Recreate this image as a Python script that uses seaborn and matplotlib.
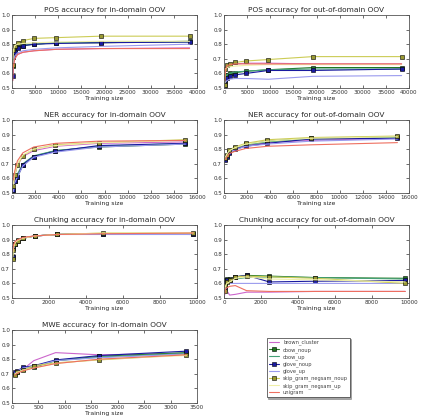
import numpy as np
import pandas as pd
import matplotlib
matplotlib.use('Agg')
import matplotlib.pyplot as plt
import seaborn as sns

sns.set_style('ticks')
plt.rcParams['font.family'] = ['DejaVu Sans']
plt.rcParams['xtick.direction'] = 'in'
plt.rcParams['ytick.direction'] = 'in'

methods = ['brown_cluster', 'cbow_noup', 'cbow_up', 'glove_noup', 'glove_up',
           'skip_gram_negsam_noup', 'skip_gram_negsam_up', 'unigram']
colors = {
    'brown_cluster': '#cc66cc',
    'cbow_noup': '#227722',
    'cbow_up': '#44a077',
    'glove_noup': '#1a1aa0',
    'glove_up': '#9a9aee',
    'skip_gram_negsam_noup': '#cccc55',
    'skip_gram_negsam_up': '#efefa8',
    'unigram': '#ee6f60',
}
marker_face = {'cbow_noup': '#227722', 'glove_noup': '#1a1aa0',
               'skip_gram_negsam_noup': '#999933'}

# x values (training sizes)
pos_x = [150, 300, 600, 1200, 2400, 4800, 9600, 19200, 38400]
ner_x = [117, 234, 469, 938, 1875, 3750, 7500, 15000]
chunk_x = [38, 77, 153, 306, 612, 1225, 2450, 4900, 9800]
mwe_x = [52, 103, 206, 412, 825, 1650, 3300]

pos_in = {
    'brown_cluster': [0.55, 0.66, 0.70, 0.73, 0.745, 0.755, 0.765, 0.77, 0.775],
    'cbow_noup': [0.65, 0.74, 0.77, 0.78, 0.79, 0.80, 0.81, 0.81, 0.82],
    'cbow_up': [0.68, 0.75, 0.78, 0.79, 0.80, 0.80, 0.81, 0.815, 0.815],
    'glove_noup': [0.58, 0.71, 0.745, 0.775, 0.79, 0.80, 0.805, 0.81, 0.815],
    'glove_up': [0.60, 0.68, 0.72, 0.74, 0.755, 0.765, 0.775, 0.785, 0.80],
    'skip_gram_negsam_noup': [0.66, 0.76, 0.79, 0.81, 0.825, 0.84, 0.845, 0.855, 0.855],
    'skip_gram_negsam_up': [0.70, 0.76, 0.79, 0.80, 0.805, 0.81, 0.815, 0.82, 0.82],
    'unigram': [0.55, 0.65, 0.70, 0.73, 0.745, 0.755, 0.765, 0.77, 0.77],
}
pos_out = {
    'brown_cluster': [0.55, 0.62, 0.65, 0.66, 0.665, 0.67, 0.67, 0.665, 0.665],
    'cbow_noup': [0.55, 0.585, 0.59, 0.60, 0.605, 0.615, 0.625, 0.64, 0.64],
    'cbow_up': [0.56, 0.58, 0.59, 0.60, 0.61, 0.615, 0.625, 0.63, 0.63],
    'glove_noup': [0.52, 0.555, 0.57, 0.58, 0.59, 0.60, 0.62, 0.62, 0.63],
    'glove_up': [0.50, 0.54, 0.55, 0.56, 0.565, 0.565, 0.56, 0.58, 0.585],
    'skip_gram_negsam_noup': [0.52, 0.63, 0.655, 0.665, 0.675, 0.685, 0.695, 0.715, 0.715],
    'skip_gram_negsam_up': [0.60, 0.63, 0.64, 0.645, 0.65, 0.655, 0.66, 0.66, 0.66],
    'unigram': [0.55, 0.62, 0.65, 0.66, 0.665, 0.665, 0.665, 0.665, 0.665],
}
ner_in = {
    'brown_cluster': [0.56, 0.62, 0.69, 0.75, 0.79, 0.82, 0.84, 0.85],
    'cbow_noup': [0.52, 0.58, 0.61, 0.69, 0.75, 0.79, 0.815, 0.835],
    'cbow_up': [0.53, 0.59, 0.63, 0.70, 0.755, 0.79, 0.82, 0.84],
    'glove_noup': [0.52, 0.58, 0.61, 0.695, 0.75, 0.785, 0.825, 0.84],
    'glove_up': [0.51, 0.57, 0.61, 0.685, 0.745, 0.78, 0.815, 0.835],
    'skip_gram_negsam_noup': [0.55, 0.62, 0.69, 0.755, 0.80, 0.83, 0.845, 0.865],
    'skip_gram_negsam_up': [0.56, 0.63, 0.70, 0.76, 0.80, 0.825, 0.845, 0.86],
    'unigram': [0.59, 0.65, 0.72, 0.775, 0.815, 0.84, 0.855, 0.86],
}
ner_out = {
    'brown_cluster': [0.74, 0.76, 0.785, 0.80, 0.825, 0.845, 0.86, 0.875],
    'cbow_noup': [0.735, 0.755, 0.78, 0.805, 0.835, 0.855, 0.875, 0.885],
    'cbow_up': [0.74, 0.76, 0.785, 0.81, 0.83, 0.85, 0.87, 0.88],
    'glove_noup': [0.725, 0.75, 0.775, 0.80, 0.82, 0.84, 0.87, 0.875],
    'glove_up': [0.74, 0.75, 0.78, 0.795, 0.82, 0.835, 0.855, 0.87],
    'skip_gram_negsam_noup': [0.74, 0.76, 0.795, 0.815, 0.84, 0.865, 0.88, 0.89],
    'skip_gram_negsam_up': [0.745, 0.765, 0.79, 0.81, 0.835, 0.855, 0.875, 0.885],
    'unigram': [0.73, 0.745, 0.77, 0.785, 0.805, 0.82, 0.83, 0.845],
}
chunk_in = {
    'brown_cluster': [0.80, 0.85, 0.88, 0.90, 0.915, 0.925, 0.935, 0.94, 0.94],
    'cbow_noup': [0.78, 0.84, 0.87, 0.895, 0.91, 0.925, 0.935, 0.94, 0.94],
    'cbow_up': [0.79, 0.845, 0.875, 0.895, 0.91, 0.925, 0.935, 0.94, 0.94],
    'glove_noup': [0.78, 0.84, 0.87, 0.89, 0.91, 0.925, 0.935, 0.94, 0.935],
    'glove_up': [0.80, 0.85, 0.875, 0.895, 0.91, 0.925, 0.935, 0.935, 0.935],
    'skip_gram_negsam_noup': [0.77, 0.83, 0.87, 0.89, 0.91, 0.925, 0.935, 0.945, 0.945],
    'skip_gram_negsam_up': [0.78, 0.84, 0.875, 0.895, 0.91, 0.925, 0.935, 0.945, 0.945],
    'unigram': [0.82, 0.86, 0.885, 0.90, 0.915, 0.925, 0.935, 0.94, 0.945],
}
chunk_out = {
    'brown_cluster': [0.52, 0.56, 0.55, 0.52, 0.525, 0.54, 0.54, 0.545, 0.545],
    'cbow_noup': [0.58, 0.62, 0.63, 0.63, 0.645, 0.655, 0.65, 0.64, 0.635],
    'cbow_up': [0.57, 0.60, 0.61, 0.62, 0.63, 0.64, 0.645, 0.64, 0.63],
    'glove_noup': [0.57, 0.60, 0.62, 0.625, 0.645, 0.655, 0.61, 0.615, 0.62],
    'glove_up': [0.56, 0.58, 0.60, 0.60, 0.60, 0.60, 0.60, 0.60, 0.60],
    'skip_gram_negsam_noup': [0.55, 0.59, 0.61, 0.62, 0.645, 0.65, 0.645, 0.635, 0.60],
    'skip_gram_negsam_up': [0.56, 0.58, 0.60, 0.61, 0.635, 0.645, 0.63, 0.625, 0.61],
    'unigram': [0.53, 0.56, 0.57, 0.58, 0.585, 0.55, 0.545, 0.545, 0.545],
}
mwe_in = {
    'brown_cluster': [0.70, 0.715, 0.73, 0.79, 0.845, 0.83, 0.84],
    'cbow_noup': [0.70, 0.715, 0.735, 0.745, 0.79, 0.82, 0.845],
    'cbow_up': [0.70, 0.715, 0.735, 0.75, 0.79, 0.815, 0.84],
    'glove_noup': [0.71, 0.72, 0.745, 0.755, 0.795, 0.825, 0.855],
    'glove_up': [0.705, 0.72, 0.74, 0.75, 0.79, 0.81, 0.835],
    'skip_gram_negsam_noup': [0.695, 0.71, 0.725, 0.755, 0.775, 0.795, 0.83],
    'skip_gram_negsam_up': [0.70, 0.71, 0.725, 0.74, 0.77, 0.80, 0.825],
    'unigram': [0.69, 0.705, 0.72, 0.74, 0.77, 0.80, 0.83],
}

panels = [
    ('POS accuracy for in-domain OOV', pos_x, pos_in, 40000, 5000),
    ('POS accuracy for out-of-domain OOV', pos_x, pos_out, 40000, 5000),
    ('NER accuracy for in-domain OOV', ner_x, ner_in, 16000, 2000),
    ('NER accuracy for out-of-domain OOV', ner_x, ner_out, 16000, 2000),
    ('Chunking accuracy for in-domain OOV', chunk_x, chunk_in, 10000, 2000),
    ('Chunking accuracy for out-of-domain OOV', chunk_x, chunk_out, 10000, 2000),
    ('MWE accuracy for in-domain OOV', mwe_x, mwe_in, 3500, 500),
]

fig = plt.figure(figsize=(4.26, 4.18), dpi=100)
W, H = 426.0, 418.0
lefts = [12, 224]
tops = [15, 120, 225, 330]
aw, ah = 185, 73

handles = None
for i, (title, xs, data, xmax, xstep) in enumerate(panels):
    r, c = divmod(i, 2)
    ax = fig.add_axes([lefts[c] / W, 1 - (tops[r] + ah) / H, aw / W, ah / H])
    for m in methods:
        df = pd.DataFrame({'Training size': xs, 'acc': data[m]})
        kw = {}
        if m in marker_face:
            kw = dict(marker='s', markersize=2.8, markerfacecolor=marker_face[m],
                      markeredgecolor='black', markeredgewidth=0.4)
        sns.lineplot(data=df, x='Training size', y='acc', color=colors[m],
                     linewidth=0.8, label=m, ax=ax, **kw)
    handles, labels = ax.get_legend_handles_labels()
    ax.get_legend().remove()
    ax.set_xlim(0, xmax)
    ax.set_ylim(0.5, 1.0)
    ax.set_xticks(np.arange(0, xmax + 1, xstep))
    ax.set_yticks(np.arange(0.5, 1.01, 0.1))
    ax.set_yticklabels(['0.5', '0.6', '0.7', '0.8', '0.9', '1.0'])
    ax.tick_params(labelsize=4.1, length=2, width=0.5, top=True, right=True,
                   pad=1.5, colors='#333333')
    for s in ax.spines.values():
        s.set_linewidth(0.6)
        s.set_color('#555555')
    ax.set_title(title, fontsize=5.3, pad=2.5)
    ax.set_xlabel('Training size', fontsize=4.4, labelpad=1)
    ax.set_ylabel('')

leg = fig.legend(handles, labels, loc='upper left',
                 bbox_to_anchor=(264 / W, 1 - 335 / H), fontsize=3.7,
                 frameon=True, fancybox=False, shadow={'ox': 1, 'oy': -1},
                 handlelength=2, labelspacing=0.3, borderpad=0.4,
                 handletextpad=0.8)
leg.get_frame().set_edgecolor('#333333')
leg.get_frame().set_linewidth(0.5)
for t in leg.get_texts():
    t.set_color('#444444')

fig.savefig('out.png', dpi=100)
